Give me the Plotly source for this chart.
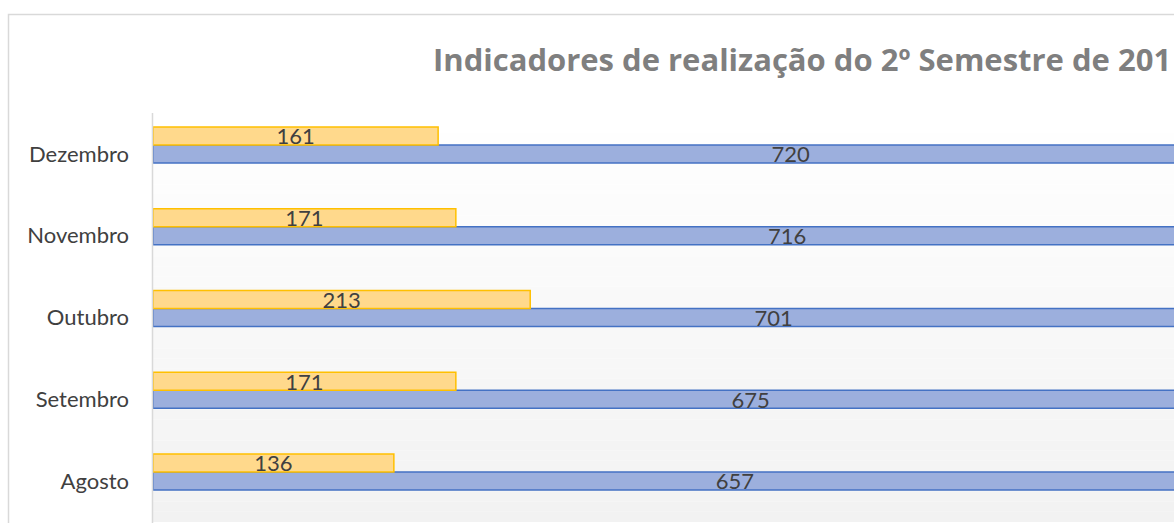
import plotly.graph_objects as go

months = ["Agosto", "Setembro", "Outubro", "Novembro", "Dezembro"]
realizados = [136, 171, 213, 171, 161]   # yellow series
total = [657, 675, 701, 716, 720]        # blue series
title_text = "Indicadores de realização do 2º Semestre de 201"

pos = list(range(len(months)))
bar_w = 0.22
lbl_dy = 0.035
ypos_blue = [p for p in pos]
ypos_yellow = [p + bar_w for p in pos]

W, H = 1174, 523
ML, MR, MT, MB = 153, 0, 113, 1
plot_w = W - ML - MR
plot_h = H - MT - MB
px_per_unit = 1.771
x_max = plot_w / px_per_unit

fig = go.Figure()

fig.add_trace(go.Bar(
    y=ypos_blue, x=total, orientation="h", width=bar_w,
    marker=dict(color="#9CAFDD", line=dict(color="#4472C4", width=1.5)),
    hoverinfo="skip", showlegend=False,
))
fig.add_trace(go.Bar(
    y=ypos_yellow, x=realizados, orientation="h", width=bar_w,
    marker=dict(color="#FFD98C", line=dict(color="#FFC000", width=1.5)),
    hoverinfo="skip", showlegend=False,
))

# data labels (centered in bars)
fig.add_trace(go.Scatter(
    y=[p - lbl_dy for p in ypos_blue], x=[v / 2 for v in total], mode="text",
    text=[str(v) for v in total], textposition="middle center",
    textfont=dict(family="Lato, sans-serif", size=22, color="#404040"),
    hoverinfo="skip", showlegend=False, cliponaxis=False,
))
fig.add_trace(go.Scatter(
    y=[p - lbl_dy for p in ypos_yellow], x=[v / 2 for v in realizados], mode="text",
    text=[str(v) for v in realizados], textposition="middle center",
    textfont=dict(family="Lato, sans-serif", size=22, color="#404040"),
    hoverinfo="skip", showlegend=False, cliponaxis=False,
))

# gradient background for plot area (strips)
shapes = []
n = 40
for i in range(n):
    t = (i + 0.5) / n
    c = int(round(255 - (255 - 242) * t))
    shapes.append(dict(
        type="rect", xref="paper", yref="paper",
        x0=0, x1=1, y0=1 - (i + 1) / n, y1=1 - i / n,
        fillcolor=f"rgb({c},{c},{c})", line=dict(width=0), layer="below",
    ))

# chart border (outer frame, cropped at right and bottom)
bx0 = (8.5 - ML) / plot_w
by1 = 1 + (MT - 14.5) / plot_h
shapes.append(dict(
    type="rect", xref="paper", yref="paper",
    x0=bx0, x1=1.5, y0=-0.5, y1=by1,
    line=dict(color="#D9D9D9", width=1.5), fillcolor="rgba(0,0,0,0)", layer="above",
))
# left axis line
shapes.append(dict(
    type="line", xref="paper", yref="paper",
    x0=-0.0005, x1=-0.0005, y0=-0.1, y1=1,
    line=dict(color="#D9D9D9", width=1.5), layer="above",
))

fig.update_layout(
    width=W, height=H,
    margin=dict(l=ML, r=MR, t=MT, b=MB),
    paper_bgcolor="white", plot_bgcolor="rgba(0,0,0,0)",
    barmode="overlay",
    shapes=shapes,
    xaxis=dict(range=[0, x_max], visible=False, fixedrange=True),
    yaxis=dict(
        range=[-0.5, 4.5], tickmode="array", tickvals=pos, ticktext=months,
        showgrid=False, zeroline=False, showline=False, ticks="",
        ticklabelstandoff=23,
        tickfont=dict(family="Lato, sans-serif", size=22, color="#404040"),
        fixedrange=True,
    ),
    annotations=[dict(
        text=f"<b>{title_text}</b>", xref="paper", yref="paper",
        x=(431 - ML) / plot_w, y=1 + (MT - 59) / plot_h,
        xanchor="left", yanchor="middle", showarrow=False,
        font=dict(family="Open Sans, sans-serif", size=31, color="#7F7F7F"),
    )],
)

fig.write_html(
    "out.html",
    config={"displayModeBar": False, "staticPlot": True},
    post_script="document.body.style.margin='0';document.body.style.overflow='hidden';",
)
